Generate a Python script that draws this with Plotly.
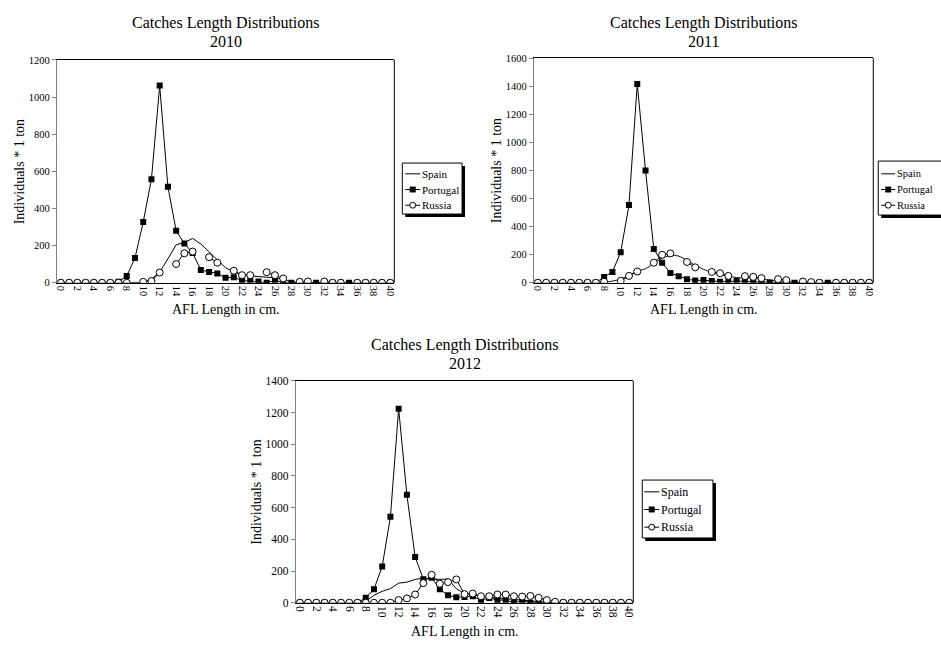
import plotly.graph_objects as go

W, H = 941, 648
lengths = list(range(41))

spain_2010 = [0,0,0,0,0,0,0,0,0,0,2,19,58,129,205,216,239,209,165,126,81,58,44,37,32,30,27,19,5,0,0,0,0,0,0,0,0,0,0,0,0]
portugal_2010 = [0,0,0,0,0,0,0,5,37,133,327,558,1062,517,280,212,161,69,58,50,27,30,12,9,7,0,12,2,0,0,0,0,0,0,0,0,0,0,0,0,0]
russia_2010 = [0,0,0,0,0,0,0,0,0,None,5,9,55,None,101,159,168,None,138,108,None,65,41,41,None,57,41,23,None,5,7,None,7,0,0,None,0,0,0,0,0]

spain_2011 = [0,0,0,0,0,0,0,0,2,12,26,54,82,100,136,176,194,190,159,124,96,73,59,47,37,35,33,26,19,14,9,5,0,0,0,0,0,0,0,0,0]
portugal_2011 = [0,0,0,0,0,0,0,0,42,77,218,553,1415,799,241,143,70,47,26,16,19,12,7,7,12,12,7,5,2,2,0,0,0,0,0,0,0,0,0,0,0]
russia_2011 = [0,0,0,0,0,0,0,0,7,None,14,49,80,None,143,199,209,None,148,110,None,77,68,49,None,47,42,33,None,26,19,None,9,5,0,None,0,0,0,0,0]

spain_2012 = [0,0,0,0,0,0,0,0,10,47,72,89,124,130,147,155,150,147,150,89,58,47,40,35,30,25,20,15,10,5,2,0,0,0,0,0,0,0,0,0,0]
portugal_2012 = [0,0,0,0,0,0,0,0,31,85,229,543,1225,681,289,149,157,85,47,35,37,41,17,30,17,17,0,12,0,0,0,0,0,0,0,0,0,0,0,0,0]
russia_2012 = [0,0,0,0,0,0,0,0,0,0,0,0,17,27,52,124,176,120,130,147,54,58,41,41,52,52,41,39,43,31,17,6,0,0,0,0,0,0,0,0,0]

series_names = ["Spain", "Portugal", "Russia"]
years = ["2010", "2011", "2012"]
y_max = [1200, 1600, 1400]

FONT = "Liberation Serif"

# panel boxes in pixels: left, right, top, bottom
boxes = [(55, 394, 55, 282), (534, 875, 53, 282), (295, 634, 382, 608)]
# legend: left, right, top, bottom, item y centres, sample x0, x1, text x, font size
legends = [
    (402, 462, 160, 212, [171, 187, 203], 405, 420, 421, 11),
    (880, 944, 158, 213, [171, 187, 203], 883, 897, 898, 10.5),
    (643, 714, 483, 542, [495, 513, 531], 645, 660, 661, 12),
]
ytitle_x = [17, 497, 256]
xtitle_y = [309, 309, 637]
title_y = [(17, 36), (17, 36), (345, 364)]
tick_fs = [10.5, 10.5, 11.5]
spain_shape = ["linear", "spline", "linear"]

data = [(spain_2010, portugal_2010, russia_2010),
        (spain_2011, portugal_2011, russia_2011),
        (spain_2012, portugal_2012, russia_2012)]

def px(x):
    return x / W

def py(y):
    return 1 - y / H

fig = go.Figure()
annotations = []
shapes = []

def text(s, x, y, size, xanchor="center", angle=0):
    annotations.append(dict(text=s, x=px(x), y=py(y), xref="paper", yref="paper",
                            showarrow=False, textangle=angle, xanchor=xanchor, yanchor="middle",
                            borderpad=0,
                            font=dict(family=FONT, size=size, color="black")))

for i in range(3):
    l, r, t, b = boxes[i]
    xa = "x" if i == 0 else f"x{i+1}"
    ya = "y" if i == 0 else f"y{i+1}"
    sp, pt, ru = data[i]
    fig.add_trace(go.Scatter(x=lengths, y=sp, name=series_names[0], mode="lines",
                             line=dict(color="black", width=1, shape=spain_shape[i], smoothing=0.8),
                             xaxis=xa, yaxis=ya))
    fig.add_trace(go.Scatter(x=lengths, y=pt, name=series_names[1], mode="lines+markers",
                             line=dict(color="black", width=1),
                             marker=dict(symbol="square", size=6, color="black"),
                             xaxis=xa, yaxis=ya))
    fig.add_trace(go.Scatter(x=lengths, y=ru, name=series_names[2], mode="lines+markers",
                             line=dict(color="black", width=1),
                             marker=dict(symbol="circle", size=7, color="white",
                                         line=dict(color="black", width=1)),
                             connectgaps=False, xaxis=xa, yaxis=ya))
    axx = dict(domain=[px(l), px(r)], range=[-0.5, 40.5], anchor=ya,
               tickmode="array", tickvals=list(range(0, 41, 2)),
               ticktext=[str(v) for v in range(0, 41, 2)], tickangle=90,
               showgrid=False, zeroline=False, showline=True, linecolor="black", linewidth=1,
               mirror=True, ticks="", tickfont=dict(family=FONT, size=tick_fs[i], color="black"))
    axy = dict(domain=[py(b), py(t)], range=[0, y_max[i]], anchor=xa,
               tickmode="linear", tick0=0, dtick=200,
               showgrid=False, zeroline=False, showline=True, linecolor="#808080", linewidth=1,
               ticks="outside", ticklen=4, tickcolor="#808080",
               tickfont=dict(family=FONT, size=tick_fs[i], color="black"))
    fig.layout[("xaxis" if i == 0 else f"xaxis{i+1}")] = axx
    fig.layout[("yaxis" if i == 0 else f"yaxis{i+1}")] = axy
    shapes.append(dict(type="line", xref="paper", yref="paper", x0=px(r), x1=px(r),
                       y0=py(b), y1=py(t), line=dict(color="black", width=1)))
    cx = (l + r) / 2
    text("Catches Length Distributions", cx, title_y[i][0], 16)
    text(years[i], cx, title_y[i][1], 16)
    text("AFL Length in cm.", cx, xtitle_y[i], 14)
    text("Individuals * 1 ton", ytitle_x[i], (t + b) / 2, 14, angle=-90)

    # legend box with drop shadow
    L, R, T, B, ys, s0, s1, tx, fs = legends[i]
    shapes.append(dict(type="rect", xref="paper", yref="paper", x0=px(L + 3), x1=px(R + 3),
                       y0=py(B + 3), y1=py(T + 3), fillcolor="black", line=dict(width=0)))
    shapes.append(dict(type="rect", xref="paper", yref="paper", x0=px(L), x1=px(R),
                       y0=py(B), y1=py(T), fillcolor="white", line=dict(color="black", width=1)))
    mid = (s0 + s1) / 2
    for k, name in enumerate(series_names):
        yy = ys[k]
        shapes.append(dict(type="line", xref="paper", yref="paper", x0=px(s0), x1=px(s1),
                           y0=py(yy), y1=py(yy), line=dict(color="black", width=1)))
        if k == 1:
            shapes.append(dict(type="rect", xref="paper", yref="paper", x0=px(mid - 3), x1=px(mid + 3),
                               y0=py(yy + 3), y1=py(yy - 3), fillcolor="black", line=dict(width=0)))
        if k == 2:
            shapes.append(dict(type="circle", xref="paper", yref="paper", x0=px(mid - 3), x1=px(mid + 3),
                               y0=py(yy + 3), y1=py(yy - 3), fillcolor="white",
                               line=dict(color="black", width=1)))
        text(name, tx, yy, fs, xanchor="left")

fig.update_layout(width=W, height=H, margin=dict(l=0, r=0, t=0, b=0),
                  paper_bgcolor="white", plot_bgcolor="white",
                  annotations=annotations, shapes=shapes, showlegend=False)

fig.write_html("out.html", config={"displayModeBar": False},
               post_script="document.body.style.margin='0';document.body.style.overflow='hidden';")
